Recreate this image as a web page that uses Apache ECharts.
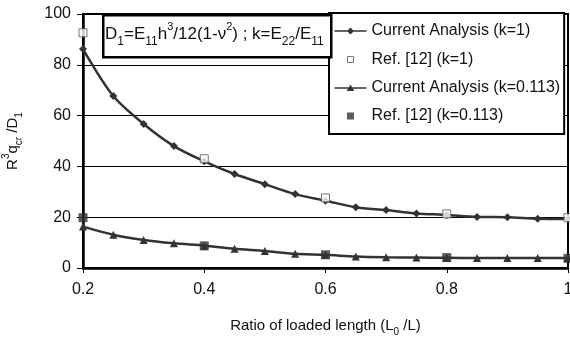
<!DOCTYPE html>
<html>
<head>
<meta charset="utf-8">
<script src="https://cdn.jsdelivr.net/npm/echarts@6/dist/echarts.min.js"></script>
<style>
html,body{margin:0;padding:0;background:#fff;}
#c{width:570px;height:337px;}
</style>
</head>
<body>
<div id="c"></div>
<script>
var xRatio = [0.2,0.25,0.3,0.35,0.4,0.45,0.5,0.55,0.6,0.65,0.7,0.75,0.8,0.85,0.9,0.95,1.0];
var currentK1 = [86.2,67.7,56.7,48.0,42.0,37.0,33.0,29.1,26.5,23.9,22.8,21.5,20.9,20.1,20.0,19.4,19.3];
var currentK0113 = [16.3,13.1,11.0,9.7,8.8,7.6,6.7,5.6,5.2,4.5,4.2,4.1,4.0,3.9,3.9,3.9,3.9];
var refX = [0.2,0.4,0.6,0.8,1.0];
var refK1 = [92.6,43.0,27.6,21.3,19.8];
var refK0113 = [19.8,8.7,5.2,4.1,3.8];
var seriesNames = ['Current Analysis (k=1)','Ref. [12] (k=1)','Current Analysis (k=0.113)','Ref. [12] (k=0.113)'];

function pairs(xs, ys){ return xs.map(function(x,i){ return [x, ys[i]]; }); }

var FONT = 'Liberation Sans, Arial, sans-serif';
var chart = echarts.init(document.getElementById('c'), null, {renderer:'canvas'});
var B = 'M0,0M32,18';
chart.setOption({
  animation:false,
  backgroundColor:'#fff',
  textStyle:{fontFamily:FONT, color:'#111'},
  grid:{left:83, right:2, top:14, bottom:69, outerBoundsMode:'none', containLabel:false,
    show:true, borderColor:'#000', borderWidth:2, backgroundColor:'transparent'},
  xAxis:{
    type:'value', min:0.2, max:1, interval:0.2,
    axisLine:{show:true, lineStyle:{color:'#000', width:2.5}},
    axisTick:{show:true, length:5, lineStyle:{color:'#000', width:1}},
    axisLabel:{fontSize:16, color:'#111', margin:14, fontFamily:FONT},
    splitLine:{show:false},
    name:'Ratio of loaded length (L{sub|0} /L)',
    nameLocation:'middle', nameGap:50,
    nameTextStyle:{fontSize:15, color:'#111', fontFamily:FONT,
      rich:{sub:{fontSize:10, verticalAlign:'bottom', lineHeight:8, padding:[0,0,-4,0], fontFamily:FONT, color:'#111'}}}
  },
  yAxis:{
    type:'value', min:0, max:100, interval:20,
    axisLine:{show:true, lineStyle:{color:'#000', width:2.5}},
    axisTick:{show:true, length:6, lineStyle:{color:'#000', width:1}},
    axisLabel:{fontSize:16, color:'#111', margin:12, fontFamily:FONT},
    splitLine:{show:true, lineStyle:{color:'#000', width:1}},
    name:'R{sup|3}q{sub|cr} /D{sub|1}',
    nameLocation:'middle', nameGap:63, nameRotate:90,
    nameTextStyle:{fontSize:15, color:'#111', fontFamily:FONT,
      rich:{
        sup:{fontSize:10, verticalAlign:'top', lineHeight:8, padding:[-4,0,0,0], fontFamily:FONT, color:'#111'},
        sub:{fontSize:10, verticalAlign:'bottom', lineHeight:8, padding:[0,0,-4,0], fontFamily:FONT, color:'#111'}
      }}
  },
  legend:{
    orient:'vertical', left:329, top:13,
    backgroundColor:'#fff', borderColor:'#000', borderWidth:2,
    padding:[9,4,9,5], itemGap:10, itemWidth:32, itemHeight:18,
    textStyle:{fontSize:16, color:'#111', fontFamily:FONT},
    data:[
      {name:seriesNames[0], icon:'path://'+B+'M0,8.2h32v1.6h-32zM16,5.5L19.5,9L16,12.5L12.5,9Z'},
      {name:seriesNames[1], icon:'path://'+B+'M13,6h6v6h-6z', itemStyle:{color:'#fff', borderColor:'#555', borderWidth:1}},
      {name:seriesNames[2], icon:'path://'+B+'M0,8.2h32v1.6h-32zM16,5.5L19.8,12L12.2,12Z'},
      {name:seriesNames[3], icon:'path://'+B+'M12.5,5.5h7v7h-7z'}
    ]
  },
  series:[
    {name:seriesNames[0], type:'line', data:pairs(xRatio,currentK1), smooth:0.3,
      symbol:'diamond', symbolSize:8, itemStyle:{color:'#333'}, lineStyle:{color:'#333', width:2.5}},
    {name:seriesNames[1], type:'scatter', data:pairs(refX,refK1), symbol:'rect', symbolSize:8,
      itemStyle:{color:'#fff', borderColor:'#555', borderWidth:1}, z:5},
    {name:seriesNames[2], type:'line', data:pairs(xRatio,currentK0113), smooth:0.3,
      symbol:'triangle', symbolSize:8, itemStyle:{color:'#333'}, lineStyle:{color:'#333', width:2.5}},
    {name:seriesNames[3], type:'scatter', data:pairs(refX,refK0113), symbol:'rect', symbolSize:9,
      itemStyle:{color:'#333'}, z:5}
  ],
  graphic:[
    {type:'rect', left:102, top:14, z:10, shape:{width:228, height:42},
      style:{fill:'#fff', stroke:'#000', lineWidth:2.5}},
    {type:'text', left:105, top:21, z:11,
      style:{
        text:'D{sub|1}=E{sub|11}h{sup|3}/12(1-ν{sup|2}) ; k=E{sub|22}/E{sub|11}',
        font:'17px '+FONT, fill:'#111',
        rich:{
          sub:{fontSize:12, verticalAlign:'bottom', lineHeight:8, padding:[0,0,-5,0], fontFamily:FONT, fill:'#111'},
          sup:{fontSize:11, verticalAlign:'top', lineHeight:8, padding:[-5,0,0,0], fontFamily:FONT, fill:'#111'}
        }
      }}
  ]
});
</script>
</body>
</html>
